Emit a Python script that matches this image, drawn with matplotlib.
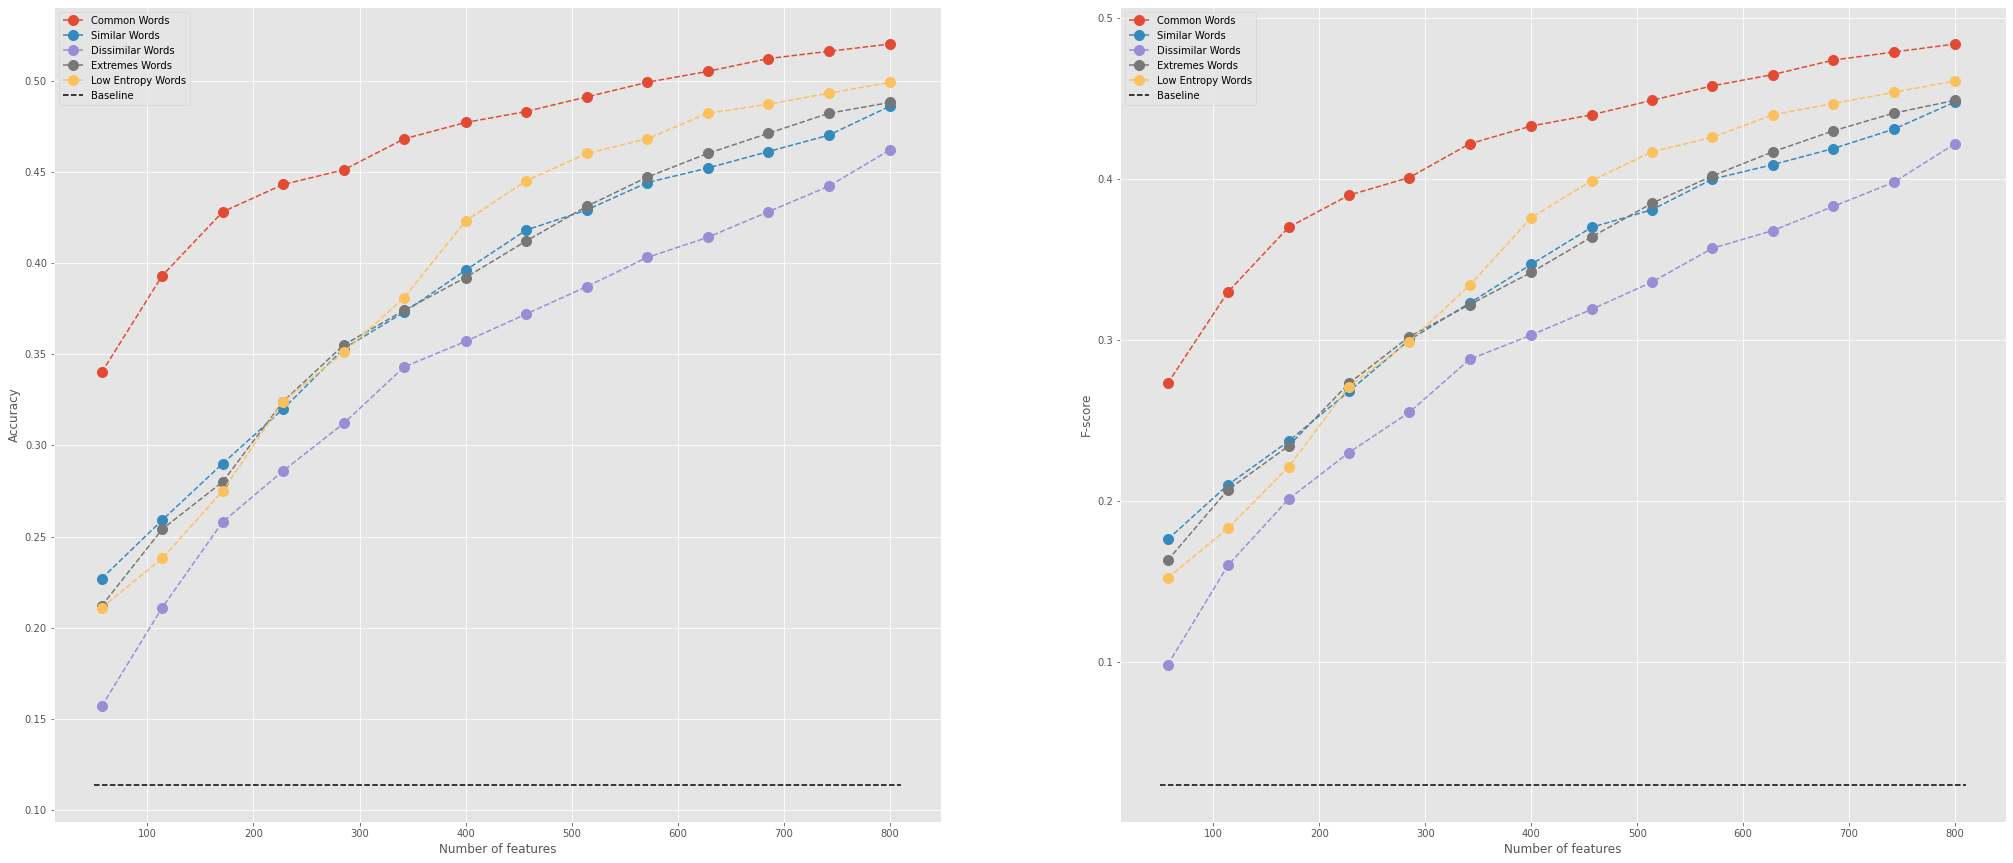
import matplotlib
matplotlib.use("Agg")
import matplotlib.pyplot as plt

plt.style.use("ggplot")

n_features = [57, 114, 171, 228, 285, 342, 400, 457, 514, 571, 628, 685, 742, 800]
baseline_x = [50, 810]

series_names = ["Common Words", "Similar Words", "Dissimilar Words",
                "Extremes Words", "Low Entropy Words"]

acc_common = [0.340, 0.393, 0.428, 0.443, 0.451, 0.468, 0.477, 0.483, 0.491,
              0.499, 0.505, 0.512, 0.516, 0.520]
acc_similar = [0.227, 0.259, 0.290, 0.320, 0.353, 0.373, 0.396, 0.418, 0.429,
               0.444, 0.452, 0.461, 0.470, 0.486]
acc_dissimilar = [0.157, 0.211, 0.258, 0.286, 0.312, 0.343, 0.357, 0.372, 0.387,
                  0.403, 0.414, 0.428, 0.442, 0.462]
acc_extremes = [0.212, 0.254, 0.280, 0.324, 0.355, 0.374, 0.392, 0.412, 0.431,
                0.447, 0.460, 0.471, 0.482, 0.488]
acc_lowentropy = [0.211, 0.238, 0.275, 0.324, 0.351, 0.381, 0.423, 0.445, 0.460,
                  0.468, 0.482, 0.487, 0.493, 0.499]
acc_baseline = 0.114

f_common = [0.273, 0.330, 0.370, 0.390, 0.401, 0.422, 0.433, 0.440, 0.449,
            0.458, 0.465, 0.474, 0.479, 0.484]
f_similar = [0.176, 0.210, 0.237, 0.268, 0.300, 0.323, 0.347, 0.370, 0.381,
             0.400, 0.409, 0.419, 0.431, 0.448]
f_dissimilar = [0.098, 0.160, 0.201, 0.230, 0.255, 0.288, 0.303, 0.319, 0.336,
                0.357, 0.368, 0.383, 0.398, 0.422]
f_extremes = [0.163, 0.207, 0.234, 0.273, 0.302, 0.322, 0.342, 0.364, 0.385,
              0.402, 0.417, 0.430, 0.441, 0.449]
f_lowentropy = [0.152, 0.183, 0.221, 0.271, 0.299, 0.334, 0.376, 0.399, 0.417,
                0.426, 0.440, 0.447, 0.454, 0.461]
f_baseline = 0.0235

acc_series = [acc_common, acc_similar, acc_dissimilar, acc_extremes, acc_lowentropy]
f_series = [f_common, f_similar, f_dissimilar, f_extremes, f_lowentropy]

fig = plt.figure(figsize=(2013 / 72, 863 / 72), dpi=72)
ax1 = fig.add_axes([0.0268, 0.0479, 0.4407, 0.944])
ax2 = fig.add_axes([0.5564, 0.0479, 0.4401, 0.944])

for ax, data, base, ylabel in [(ax1, acc_series, acc_baseline, "Accuracy"),
                               (ax2, f_series, f_baseline, "F-score")]:
    for name, vals in zip(series_names, data):
        ax.plot(n_features, vals, "o--", markersize=10, label=name)
    ax.plot(baseline_x, [base, base], "k--", label="Baseline")
    ax.set_xlabel("Number of features")
    ax.set_ylabel(ylabel)
    ax.legend(loc="upper left")

fig.savefig("out.png", dpi=72)
